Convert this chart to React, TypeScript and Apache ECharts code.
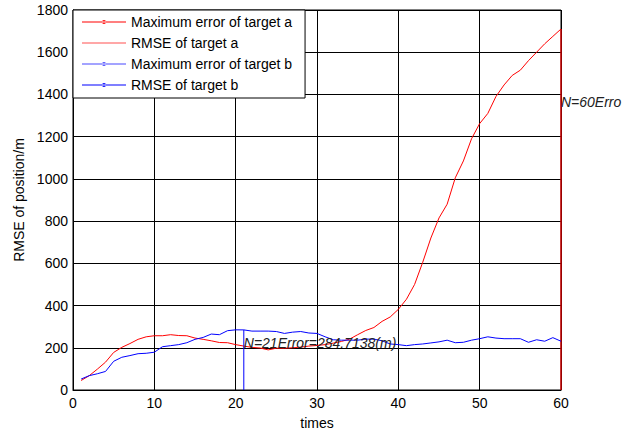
import React, { useEffect, useRef } from "react";
import * as echarts from "echarts";

const times: number[] = Array.from({ length: 60 }, (_, i) => i + 1);

const rmseA: number[] = [
  45, 68, 99, 132, 178, 202, 220, 240, 252, 257,
  257, 262, 258, 257, 246, 240, 233, 225, 224, 215,
  208, 202, 199, 190, 198, 198, 200, 203, 208, 211,
  215, 222, 230, 241, 262, 282, 296, 325, 346, 382,
  430, 500, 605, 720, 815, 880, 1005, 1085, 1190, 1262,
  1310, 1390, 1445, 1490, 1515, 1560, 1600, 1640, 1675, 1710,
];

const rmseB: number[] = [
  52, 68, 77, 88, 136, 155, 163, 172, 174, 179,
  205, 210, 215, 224, 240, 249, 265, 262, 281, 285,
  284.7138, 279, 279, 279, 277, 268, 274, 277, 270, 268,
  252, 238, 236, 236, 236, 241, 241, 233, 218, 215,
  210, 215, 218, 223, 228, 236, 224, 226, 236, 243,
  252, 246, 243, 243, 243, 226, 238, 231, 248, 231,
];

const maxErrA: number[][] = [[60, 0], [60, 1710]];
const maxErrB: number[][] = [[21, 0], [21, 284.7138]];

const seriesNames: string[] = [
  "Maximum error of target a",
  "RMSE of target a",
  "Maximum error of target b",
  "RMSE of target b",
];

const annotA = { coord: [60, 1362], text: "N=60Erro" };
const annotB = { coord: [21, 225], text: "N=21Error=284.7138(m)" };

const FONT = "'Liberation Sans', Arial, sans-serif";

const ICON_DOT = "path://M0,1.5H44V2.5H0Z M20,2a2,2 0 1,0 4,0a2,2 0 1,0 -4,0Z";
const ICON_LINE = "path://M0,0H44V1H0Z";

export default function App() {
  const ref = useRef<HTMLDivElement>(null);
  useEffect(() => {
    document.body.style.margin = "0";
    const chart = echarts.init(ref.current!, null, { renderer: "svg" });
    const labelStyle = {
      show: true,
      position: "right",
      distance: 0,
      fontFamily: FONT,
      fontSize: 14,
      fontStyle: "italic",
      color: "#222",
    };
    chart.setOption({
      animation: false,
      backgroundColor: "#fff",
      textStyle: { fontFamily: FONT },
      grid: { left: 73, right: 71, top: 10, bottom: 42, show: true, borderColor: "#000", borderWidth: 1 },
      legend: {
        data: [
          { name: seriesNames[0], icon: ICON_DOT },
          { name: seriesNames[1], icon: ICON_LINE },
          { name: seriesNames[2], icon: ICON_DOT },
          { name: seriesNames[3], icon: ICON_DOT },
        ],
        orient: "vertical",
        left: 73,
        top: 10,
        padding: [5, 13, 6, 9],
        itemWidth: 44,
        itemHeight: 14,
        itemGap: 7,
        symbolKeepAspect: true,
        backgroundColor: "#fff",
        borderColor: "#000",
        borderWidth: 1,
        borderRadius: 0,
        textStyle: { fontFamily: FONT, fontSize: 14, color: "#000", lineHeight: 14 },
        z: 10,
      },
      xAxis: {
        type: "value",
        min: 0,
        max: 60,
        interval: 10,
        name: "times",
        nameLocation: "middle",
        nameGap: 26,
        nameTextStyle: { fontFamily: FONT, fontSize: 14, color: "#000" },
        axisLine: { lineStyle: { color: "#000" } },
        axisTick: { inside: true, length: 4, lineStyle: { color: "#000" } },
        axisLabel: { fontFamily: FONT, fontSize: 14, color: "#000", margin: 6 },
        splitLine: { show: true, lineStyle: { color: "#000", width: 1 } },
      },
      yAxis: {
        type: "value",
        min: 0,
        max: 1800,
        interval: 200,
        name: "RMSE of position/m",
        nameLocation: "middle",
        nameGap: 44,
        nameTextStyle: { fontFamily: FONT, fontSize: 14, color: "#000" },
        axisLine: { show: true, lineStyle: { color: "#000" } },
        axisTick: { show: true, inside: true, length: 4, lineStyle: { color: "#000" } },
        axisLabel: {
          fontFamily: FONT,
          fontSize: 14,
          color: "#000",
          margin: 5,
          formatter: (v: number) => String(v),
        },
        splitLine: { show: true, lineStyle: { color: "#000", width: 1 } },
      },
      series: [
        {
          name: seriesNames[0],
          type: "line",
          data: maxErrA,
          color: "#ff0000",
          symbol: "circle",
          symbolSize: 4,
          showSymbol: false,
          lineStyle: { width: 1.2, color: "#ff0000" },
          clip: false,
          markPoint: {
            symbol: "circle",
            symbolSize: 0,
            data: [{ coord: annotA.coord, label: { ...labelStyle, formatter: annotA.text } }],
          },
        },
        {
          name: seriesNames[1],
          type: "line",
          data: times.map((t, i) => [t, rmseA[i]]),
          color: "#ff5050",
          symbol: "none",
          lineStyle: { width: 1, color: "#ff0000" },
        },
        {
          name: seriesNames[2],
          type: "line",
          data: maxErrB,
          color: "#4848ff",
          symbol: "circle",
          symbolSize: 4,
          showSymbol: false,
          lineStyle: { width: 1, color: "#0000ff" },
          markPoint: {
            symbol: "circle",
            symbolSize: 0,
            data: [{ coord: annotB.coord, label: { ...labelStyle, formatter: annotB.text } }],
          },
        },
        {
          name: seriesNames[3],
          type: "line",
          data: times.map((t, i) => [t, rmseB[i]]),
          color: "#0000ff",
          symbol: "circle",
          symbolSize: 4,
          showSymbol: false,
          lineStyle: { width: 1, color: "#0000ff" },
        },
      ],
    });
    return () => chart.dispose();
  }, []);
  return <div ref={ref} style={{ width: 632, height: 435 }} />;
}
